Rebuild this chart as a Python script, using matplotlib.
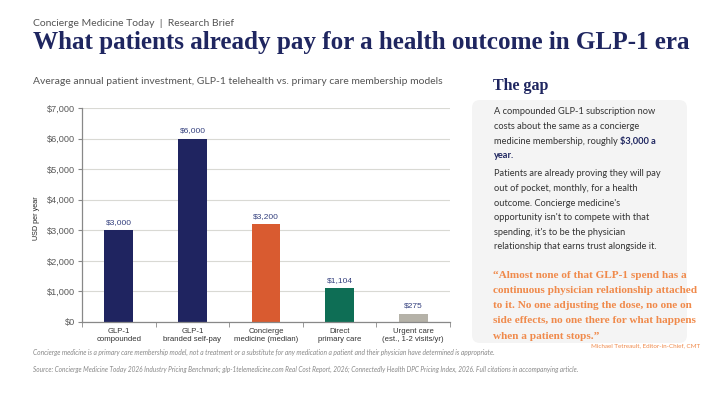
import matplotlib.pyplot as plt
from matplotlib.patches import FancyBboxPatch
from matplotlib.ticker import StrMethodFormatter

# data
categories = ["GLP-1\ncompounded", "GLP-1\nbranded self-pay", "Concierge\nmedicine (median)",
              "Direct\nprimary care", "Urgent care\n(est., 1-2 visits/yr)"]
values = [3000, 6000, 3200, 1104, 275]
value_labels = ["$3,000", "$6,000", "$3,200", "$1,104", "$275"]
bar_colors = ["#1F2460", "#1F2460", "#D95B30", "#0E6E55", "#B5B2A8"]

gap_para1 = ["A compounded GLP-1 subscription now",
             "costs about the same as a concierge",
             "medicine membership, roughly "]
gap_bold = ["$3,000 a", "year."]
gap_para2 = ["Patients are already proving they will pay",
             "out of pocket, monthly, for a health",
             "outcome. Concierge medicine's",
             "opportunity isn't to compete with that",
             "spending, it's to be the physician",
             "relationship that earns trust alongside it."]
quote_lines = ["\u201cAlmost none of that GLP-1 spend has a",
               "continuous physician relationship attached",
               "to it. No one adjusting the dose, no one on",
               "side effects, no one there for what happens",
               "when a patient stops.\u201d"]

NAVY = "#1F2660"
ORANGE = "#F08A4B"
SANS = ["Lato", "DejaVu Sans"]
SERIF = ["Liberation Serif", "DejaVu Serif"]
ARIAL = ["Liberation Sans", "DejaVu Sans"]

fig = plt.figure(figsize=(7.2, 4.05), dpi=100)

# overlay in pixel coordinates for text and the side panel
ov = fig.add_axes([0, 0, 1, 1], zorder=0)
ov.set_xlim(0, 720)
ov.set_ylim(405, 0)
ov.axis("off")

ov.text(33, 23, "Concierge Medicine Today  |  Research Brief", fontsize=7.5,
        color="#555555", family=SANS, va="center")
ov.text(33, 42, "What patients already pay for a health outcome in GLP-1 era",
        fontsize=18.1, fontweight="bold", color=NAVY, family=SERIF, va="center")
ov.text(33, 82, "Average annual patient investment, GLP-1 telehealth vs. primary care membership models",
        fontsize=7.5, color="#555555", family=SANS, va="center")

# side panel
ov.text(493, 86, "The gap", fontsize=11.5, fontweight="bold", color=NAVY,
        family=SERIF, va="center")
box = FancyBboxPatch((472, 100), 215, 243, boxstyle="round,pad=0,rounding_size=8",
                     facecolor="#F4F4F4", edgecolor="none")
ov.add_patch(box)

y = 112
for line in gap_para1:
    t = ov.text(494, y, line, fontsize=6.7, color="#333333", family=SANS, va="center")
    y += 14.5
ov.annotate(gap_bold[0], xy=(1, 0.5), xycoords=t, va="center", fontsize=6.7,
            fontweight="bold", color=NAVY, family=SANS)
ov.text(494, 156, gap_bold[1], fontsize=6.7, fontweight="bold", color=NAVY,
        family=SANS, va="center")

y = 174
for line in gap_para2:
    ov.text(494, y, line, fontsize=6.7, color="#333333", family=SANS, va="center")
    y += 14.6

y = 275
for line in quote_lines:
    ov.text(493, y, line, fontsize=8.1, fontweight="bold", color=ORANGE,
            family=SERIF, va="center")
    y += 15.3
ov.text(700, 346, "Michael Tetreault, Editor-in-Chief, CMT", fontsize=4.5,
        color=ORANGE, family=SANS, va="center", ha="right")

# footnotes
ov.text(33, 352, "Concierge medicine is a primary care membership model, not a treatment or a substitute "
        "for any medication a patient and their physician have determined is appropriate.",
        fontsize=4.8, style="italic", color="#888888", family=SANS, va="center")
ov.text(33, 369, "Source: Concierge Medicine Today 2026 Industry Pricing Benchmark; glp-1telemedicine.com "
        "Real Cost Report, 2026; Connectedly Health DPC Pricing Index, 2026. Full citations in accompanying article.",
        fontsize=4.72, style="italic", color="#888888", family=SANS, va="center")

# bar chart
ax = fig.add_axes([82 / 720, 1 - 322 / 405, 368 / 720, 214 / 405], zorder=1)
ax.patch.set_alpha(0)
x = range(len(categories))
bars = ax.bar(x, values, width=0.39, color=bar_colors, zorder=2)
for b, lab in zip(bars, value_labels):
    ax.annotate(lab, (b.get_x() + b.get_width() / 2, b.get_height()), xytext=(0, 3),
                textcoords="offset points", ha="center", va="bottom", fontsize=6,
                color="#34407E", family=ARIAL)

ax.set_xlim(-0.5, len(categories) - 0.5)
ax.set_ylim(0, 7000)
ax.set_yticks(range(0, 7001, 1000))
ax.yaxis.set_major_formatter(StrMethodFormatter("${x:,.0f}"))
ax.set_xticks(list(x))
ax.set_xticklabels(categories, fontsize=5.6, color="#333333", family=ARIAL,
                   linespacing=1.2)
ax.set_xticks([i - 0.5 for i in range(len(categories) + 1)], minor=True)
ax.tick_params(axis="x", which="major", length=0, pad=4)
ax.tick_params(axis="x", which="minor", length=3.5, color="#888888", direction="out")
ax.tick_params(axis="y", length=3, color="#888888", labelsize=6.6, labelcolor="#595959", pad=2)
for lab in ax.get_yticklabels():
    lab.set_family(ARIAL)
ax.grid(axis="y", color="#D9D9D4", linewidth=0.8, zorder=0)
for s in ["top", "right"]:
    ax.spines[s].set_visible(False)
for s in ["left", "bottom"]:
    ax.spines[s].set_color("#888888")
    ax.spines[s].set_linewidth(0.9)

fig.text(36 / 720, 1 - 218 / 405, "USD per year", rotation=90, fontsize=5.2,
         color="#222222", family=ARIAL, ha="center", va="center")

fig.savefig("out.png", dpi=100, facecolor="white")
